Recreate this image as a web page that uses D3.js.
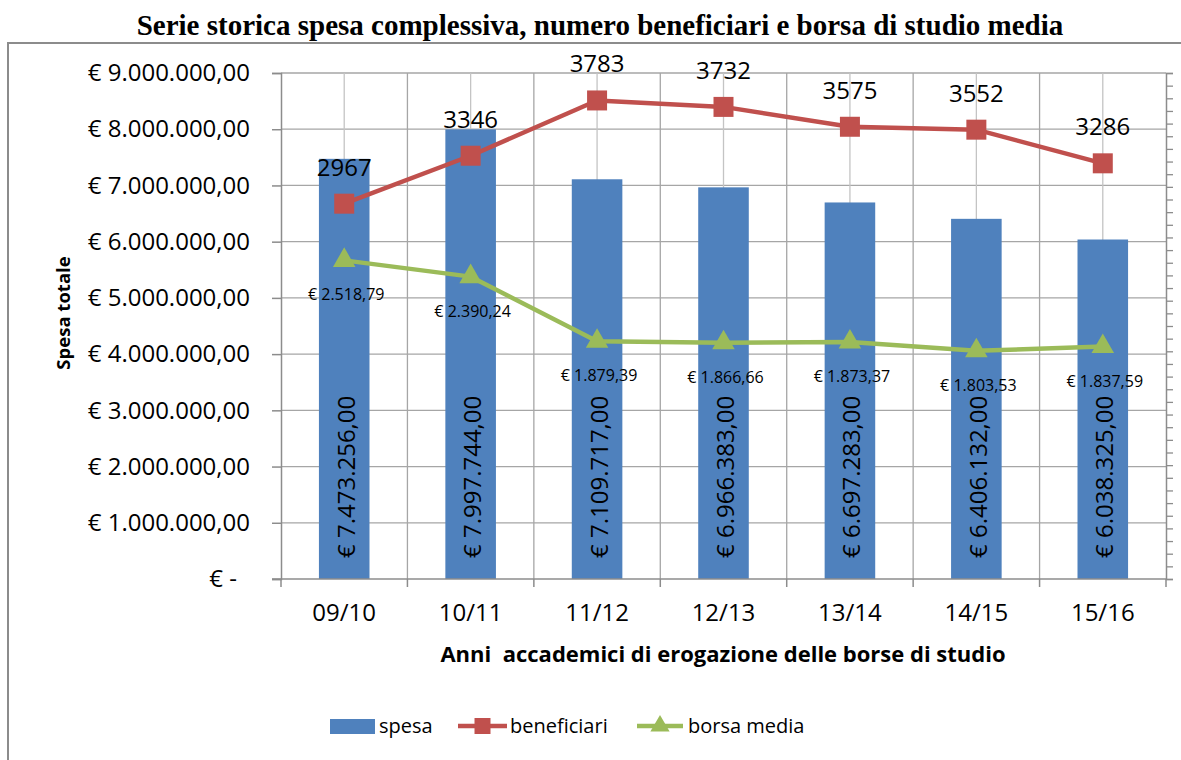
<!DOCTYPE html>
<html>
<head>
<meta charset="utf-8">
<script src="https://cdn.jsdelivr.net/npm/d3@7"></script>
<style>
  html, body { margin: 0; padding: 0; background: #fff; }
  svg { display: block; }
  text { font-family: "Open Sans", "Liberation Sans", sans-serif; fill: #000; }
</style>
</head>
<body>
<svg id="chart" width="1181" height="760"></svg>
<script>
const categories = ["09/10", "10/11", "11/12", "12/13", "13/14", "14/15", "15/16"];
const spesa = [7473256, 7997744, 7109717, 6966383, 6697283, 6406132, 6038325];
const beneficiari = [2967, 3346, 3783, 3732, 3575, 3552, 3286];
const borsaMedia = [2518.79, 2390.24, 1879.39, 1866.66, 1873.37, 1803.53, 1837.59];
const leftTickValues = [0, 1000000, 2000000, 3000000, 4000000, 5000000, 6000000, 7000000, 8000000, 9000000];
const leftTickLabels = ["€ -", "€ 1.000.000,00", "€ 2.000.000,00", "€ 3.000.000,00", "€ 4.000.000,00",
  "€ 5.000.000,00", "€ 6.000.000,00", "€ 7.000.000,00", "€ 8.000.000,00", "€ 9.000.000,00"];
const seriesNames = ["spesa", "beneficiari", "borsa media"];
const titleText = "Serie storica spesa complessiva, numero beneficiari e borsa di studio media";
const yTitle = "Spesa totale";
const xTitle = "Anni  accademici di erogazione delle borse di studio";

const BLUE = "#4F81BD", RED = "#C0504D", GREEN = "#9BBB59", GRID = "#a6a6a6", AXIS = "#8c8c8c";

const it = d3.formatLocale({decimal: ",", thousands: ".", grouping: [3], currency: ["€ ", ""]});
const fmtEuro = it.format("$,.2f");

const svg = d3.select("#chart");

// outer frame
svg.append("rect").attr("x", 8).attr("y", 43).attr("width", 1200).attr("height", 760)
  .attr("fill", "none").attr("stroke", AXIS).attr("stroke-width", 2);

// title
svg.append("text").attr("x", 600).attr("y", 35).attr("text-anchor", "middle")
  .style("font-family", "'Liberation Serif', serif").style("font-weight", "bold").style("font-size", "29px")
  .text(titleText);

const pLeft = 281, pRight = 1166, pTop = 73, pBottom = 579;
const x = d3.scaleBand().domain(categories).range([pLeft, pRight]).paddingInner(0).paddingOuter(0);
const yL = d3.scaleLinear().domain([0, 9000000]).range([pBottom, pTop]);
const yR = d3.scaleLinear().domain([0, 4000]).range([pBottom, pTop]);
const cx = c => x(c) + x.bandwidth() / 2;

// gridlines
const grid = svg.append("g").attr("stroke", GRID).attr("stroke-width", 1.3);
grid.selectAll("line.h").data(leftTickValues.slice(1)).join("line")
  .attr("x1", pLeft).attr("x2", pRight).attr("y1", d => yL(d)).attr("y2", d => yL(d));
const boundaries = categories.map(c => x(c)).concat([pRight]);
grid.selectAll("line.vb").data(boundaries.slice(1, -1)).join("line")
  .attr("x1", d => d).attr("x2", d => d).attr("y1", pTop).attr("y2", pBottom);
grid.selectAll("line.vc").data(categories).join("line")
  .attr("x1", d => cx(d)).attr("x2", d => cx(d)).attr("y1", pTop).attr("y2", pBottom)
  .attr("stroke", "#c4c4c4");

// bars
svg.append("g").selectAll("rect").data(categories).join("rect")
  .attr("x", (c) => cx(c) - x.bandwidth() * 0.2)
  .attr("width", x.bandwidth() * 0.4)
  .attr("y", (c, i) => yL(spesa[i]))
  .attr("height", (c, i) => pBottom - yL(spesa[i]))
  .attr("fill", BLUE);

// left axis
const axL = svg.append("g").attr("transform", `translate(${pLeft},0)`)
  .call(d3.axisLeft(yL).tickValues(leftTickValues).tickSize(9).tickPadding(22)
    .tickFormat((d, i) => leftTickLabels[i]));
axL.select(".domain").attr("stroke", AXIS).attr("stroke-width", 1.5);
axL.selectAll(".tick line").attr("stroke", AXIS).attr("stroke-width", 1.5);
axL.selectAll(".tick text").style("font-size", "24px").style("font-family", "'Open Sans', sans-serif")
  .attr("fill", "#000").attr("dx", d => d === 0 ? -13 : 0);

// right axis (secondary, no labels)
const rightTicks = d3.range(0, 4001, 100);
const axR = svg.append("g").attr("transform", `translate(${pRight},0)`)
  .call(d3.axisRight(yR).tickValues(rightTicks).tickSize(7).tickFormat(""));
axR.select(".domain").attr("stroke", AXIS).attr("stroke-width", 1.5);
axR.selectAll(".tick line").attr("stroke", AXIS).attr("stroke-width", 1.3);

// x axis
const axX = svg.append("g").attr("transform", `translate(0,${pBottom})`);
axX.append("line").attr("x1", pLeft - 9).attr("x2", pRight).attr("y1", 0).attr("y2", 0)
  .attr("stroke", AXIS).attr("stroke-width", 1.5);
axX.selectAll("line.t").data(boundaries).join("line")
  .attr("x1", d => d).attr("x2", d => d).attr("y1", 0).attr("y2", 8)
  .attr("stroke", AXIS).attr("stroke-width", 1.5);
axX.selectAll("text").data(categories).join("text")
  .attr("x", d => cx(d)).attr("y", 42).attr("text-anchor", "middle")
  .style("font-size", "24px").text(d => d);

// axis titles
svg.append("text").attr("transform", `translate(62,313) rotate(-90)`)
  .attr("text-anchor", "middle").attr("dominant-baseline", "central")
  .style("font-weight", "bold").style("font-size", "18.5px").text(yTitle);
svg.append("text").attr("x", 723).attr("y", 662).attr("text-anchor", "middle")
  .style("white-space", "pre")
  .style("font-weight", "bold").style("font-size", "22px").text(xTitle);

// bar labels
svg.append("g").selectAll("text").data(categories).join("text")
  .attr("transform", c => `translate(${cx(c) + 1},558) rotate(-90)`)
  .attr("text-anchor", "start").attr("dominant-baseline", "central")
  .style("font-size", "24px").text((c, i) => fmtEuro(spesa[i]));

// lines
const lineGen = (vals) => d3.line().x((d, i) => cx(categories[i])).y(d => yR(d))(vals);
svg.append("path").attr("d", lineGen(beneficiari)).attr("fill", "none")
  .attr("stroke", RED).attr("stroke-width", 4.5).attr("stroke-linejoin", "round");
svg.append("path").attr("d", lineGen(borsaMedia)).attr("fill", "none")
  .attr("stroke", GREEN).attr("stroke-width", 4.5).attr("stroke-linejoin", "round");

const sq = d3.symbol().type(d3.symbolSquare).size(400);
const tri = d3.symbol().type(d3.symbolTriangle).size(220);
svg.append("g").selectAll("path").data(beneficiari).join("path")
  .attr("transform", (d, i) => `translate(${cx(categories[i])},${yR(d)})`)
  .attr("d", sq).attr("fill", RED);
svg.append("g").selectAll("path").data(borsaMedia).join("path")
  .attr("transform", (d, i) => `translate(${cx(categories[i])},${yR(d)})`)
  .attr("d", tri).attr("fill", GREEN);

// line labels
svg.append("g").selectAll("text").data(beneficiari).join("text")
  .attr("x", (d, i) => cx(categories[i])).attr("y", d => yR(d) - 28)
  .attr("text-anchor", "middle").style("font-size", "24px").text(d => d);
svg.append("g").selectAll("text").data(borsaMedia).join("text")
  .attr("x", (d, i) => cx(categories[i]) + 2).attr("y", d => yR(d) + 34)
  .attr("text-anchor", "middle").attr("dominant-baseline", "central")
  .style("font-size", "16px").text(d => fmtEuro(d));

// legend
const lg = svg.append("g");
lg.append("rect").attr("x", 330).attr("y", 719).attr("width", 45).attr("height", 15).attr("fill", BLUE);
lg.append("text").attr("x", 379).attr("y", 733).style("font-size", "20px").text(seriesNames[0]);
lg.append("line").attr("x1", 458).attr("x2", 507).attr("y1", 726).attr("y2", 726)
  .attr("stroke", RED).attr("stroke-width", 4.5);
lg.append("path").attr("transform", "translate(482.5,726)").attr("d", d3.symbol().type(d3.symbolSquare).size(256)).attr("fill", RED);
lg.append("text").attr("x", 510).attr("y", 733).style("font-size", "20px").text(seriesNames[1]);
lg.append("line").attr("x1", 637).attr("x2", 683).attr("y1", 726).attr("y2", 726)
  .attr("stroke", GREEN).attr("stroke-width", 4.5);
lg.append("path").attr("transform", "translate(660,726)").attr("d", d3.symbol().type(d3.symbolTriangle).size(160)).attr("fill", GREEN);
lg.append("text").attr("x", 688).attr("y", 733).style("font-size", "20px").text(seriesNames[2]);
</script>
</body>
</html>
